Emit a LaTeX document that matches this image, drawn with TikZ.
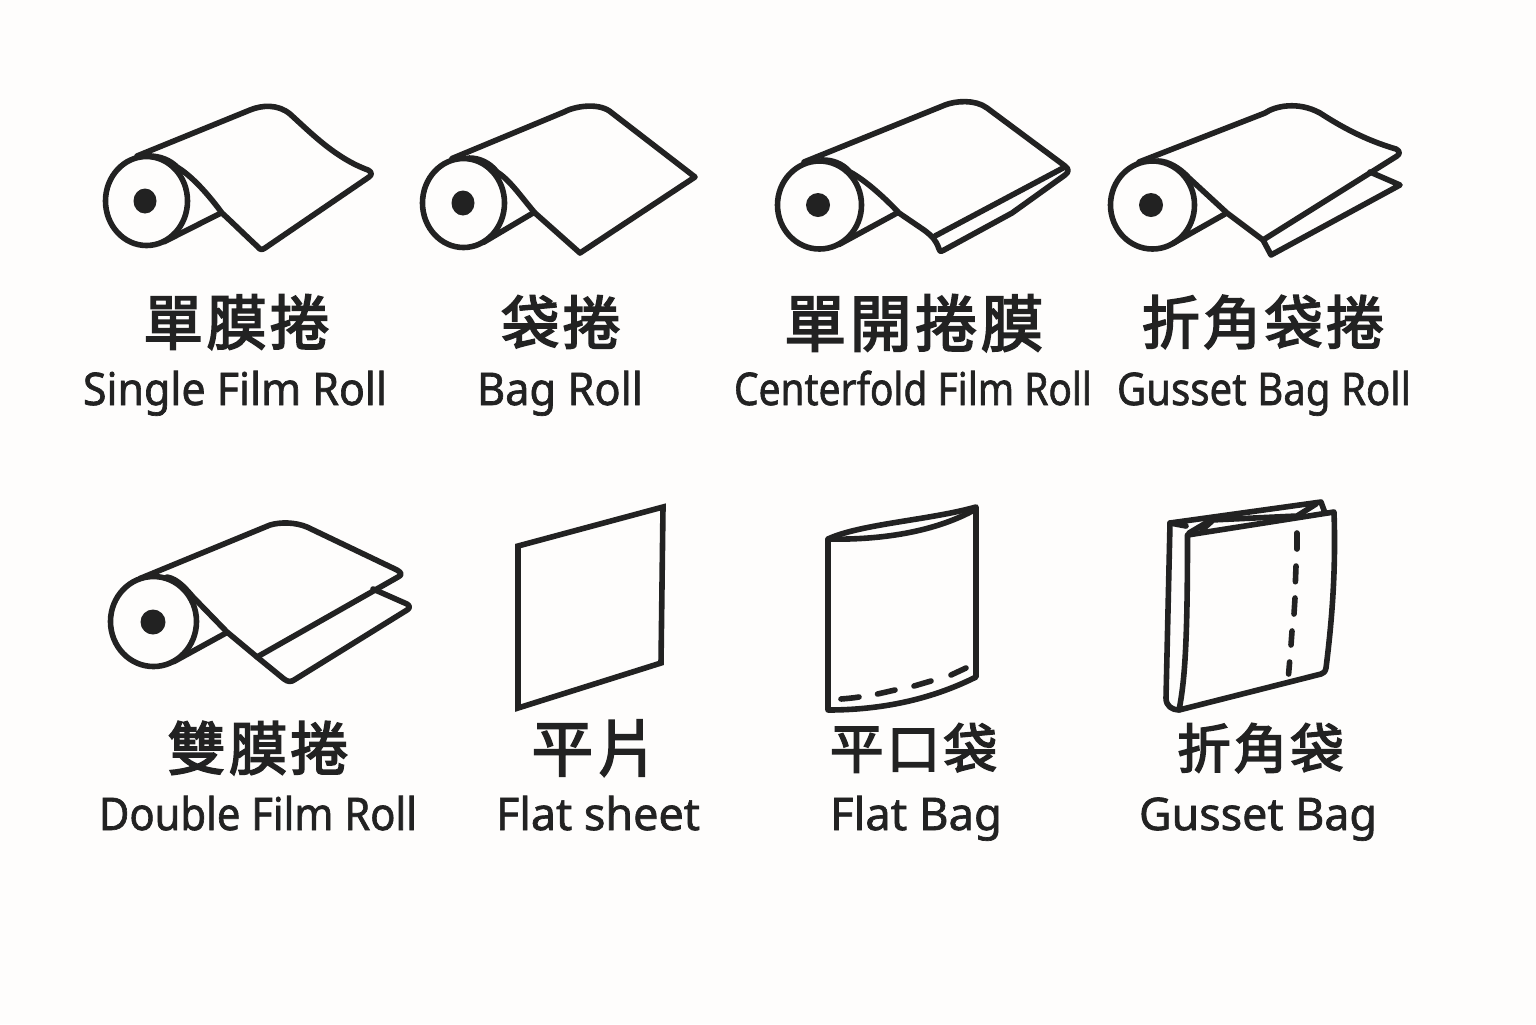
\documentclass[tikz,border=0pt]{standalone}
\usepackage{graphicx}
\usepackage{fontspec}
\setmainfont[FakeBold=1.5]{Noto Sans}
\newfontfamily\cjk[FakeBold=3,LetterSpace=6]{Noto Sans CJK TC}
\definecolor{ink}{HTML}{222222}
\definecolor{paper}{HTML}{FEFDFC}
\newcommand{\enlab}[2]{\resizebox{\dimexpr#1pt/2\relax}{\height}{#2}}
\tikzset{
  ic/.style={draw=ink,line width=2.8pt,line join=round,line cap=round},
  hole/.style={fill=ink},
  zh/.style={inner sep=0pt,text=ink,font=\fontsize{29}{29}\cjk,anchor=center},
  en/.style={inner sep=0pt,text=ink,font=\fontsize{22.5}{24}\selectfont,anchor=base},
}
\begin{document}
\begin{tikzpicture}[x=0.5pt,y=-0.5pt]
\useasboundingbox (0,0) rectangle (1536,1024);
\fill[paper] (0,0) rectangle (1536,1024);
% ---------- Single film roll
\draw[ic] (146.5,201) ellipse [x radius=41,y radius=44.5];
\fill[hole] (145,201) ellipse [x radius=11.5,y radius=12.5];
\draw[ic] (137,156) -- (250,110) .. controls (262,105) and (278,104) .. (290,114) .. controls (310,132) and (335,158) .. (368,170) .. controls (372,172) and (372,175) .. (369,177) -- (265,248) .. controls (262,250) and (260,250) .. (258,247) .. controls (245,235) and (235,225) .. (222,213) .. controls (205,190) and (190,175) .. (177,167) .. controls (170,160) and (160,156) .. (149,156);
\draw[ic] (221,213) -- (164,241.8);
% ---------- Bag roll
\draw[ic] (463.5,203) ellipse [x radius=41,y radius=44.5];
\fill[hole] (463,203) ellipse [x radius=11.5,y radius=12.5];
\draw[ic] (452,158.5) -- (564,112) .. controls (575,106) and (600,102) .. (612,113) -- (695,177) -- (580,253) -- (535,213) .. controls (522,198) and (510,180) .. (497,172) .. controls (490,163) and (480,158) .. (469,158);
\draw[ic] (533,213) -- (483.4,242.4);
% ---------- Centerfold film roll
\draw[ic] (819.5,205) ellipse [x radius=42,y radius=44];
\fill[hole] (818,205) ellipse [x radius=12,y radius=12];
\draw[ic] (804,162) -- (945,105) .. controls (955,101) and (975,99) .. (987,108) -- (1065,166) .. controls (1069,169) and (1069,172) .. (1065,175) -- (1012,213) -- (944,250) .. controls (942,252) and (940,252) .. (939,249) .. controls (936,240) and (932,236) .. (924,230) -- (899,213) .. controls (885,198) and (865,180) .. (850,172) .. controls (842,163) and (832,160) .. (823,160);
\draw[ic] (1063,168) -- (935,236);
\draw[ic] (897,213) -- (839,244.5);
% ---------- Gusset bag roll
\draw[ic] (1152.5,205) ellipse [x radius=42,y radius=44];
\fill[hole] (1151,205) ellipse [x radius=12,y radius=12];
\draw[ic] (1139,162) -- (1265,113) .. controls (1275,106) and (1298,101) .. (1320,113) .. controls (1340,126) and (1365,140) .. (1396,149) .. controls (1400,151) and (1400,154) .. (1397,156) -- (1263,240);
\draw[ic] (1158,161) .. controls (1168,161) and (1180,168) .. (1189,178) -- (1227,213) -- (1263,240) -- (1271,255) -- (1400,185) -- (1370,172);
\draw[ic] (1225,214) -- (1172.8,243.5);
% ---------- Double film roll
\draw[ic] (153.5,621.5) ellipse [x radius=43,y radius=45];
\fill[hole] (153,622) ellipse [x radius=12.5,y radius=12.5];
\draw[ic] (140,578.5) -- (270,525) .. controls (280,522) and (295,522) .. (307,527) -- (397,570) .. controls (402,573) and (402,575) .. (398,577) -- (257,657);
\draw[ic] (167,577) .. controls (178,579) and (186,589) .. (193,597) -- (227,632) -- (257,657) -- (284,679) .. controls (288,682) and (291,682) .. (294,680) -- (407,610) .. controls (410,608) and (410,606) .. (407,604) -- (373,589);
\draw[ic] (226,633) -- (173.7,661.7);
% ---------- Flat sheet
\draw[ic,line join=miter] (518,546) -- (663,507) -- (661,663) -- (518,708) -- cycle;
% ---------- Flat bag
\draw[ic] (828,539) .. controls (860,524) and (930,520) .. (976,507) -- (976,677) .. controls (930,700) and (880,710) .. (828,710) -- cycle;
\draw[ic] (828,539) .. controls (870,540) and (930,535) .. (976,509);
\draw[ic] (841,699) .. controls (847,698.5) and (853,698) .. (859,697);
\draw[ic] (877.5,694) -- (895,690);
\draw[ic] (914,686) -- (931,681);
\draw[ic] (951,675) -- (966,668);
% ---------- Gusset bag
\draw[ic] (1186,526) -- (1170,523) -- (1321,502) -- (1325,513);
\draw[ic] (1170,523) -- (1166,698) .. controls (1166,706) and (1172,710) .. (1179,710);
\draw[ic] (1187.5,535) -- (1334,512) .. controls (1336,570) and (1332,620) .. (1326,668) .. controls (1325,672) and (1324,673) .. (1321,674) -- (1179,710) .. controls (1185,680) and (1187.5,640) .. (1187.5,535) -- cycle;
\draw[ic] (1189,533) -- (1211,520) -- (1297,516) -- (1316,504);
\draw[ic] (1202,530) -- (1212,521);
\draw[ic] (1296.8,533) -- (1296.8,549);
\draw[ic] (1296,566) -- (1295.4,581.7);
\draw[ic] (1295,598) -- (1294,614);
\draw[ic] (1292,631) -- (1291,645);
\draw[ic] (1289.6,662) -- (1288.6,674);
% ---------- Labels
\node[zh] (z1) at (236.5,322) {\scalebox{1.03}{單膜捲}};
\node[en] (e1) at (235,405) {\enlab{304}{Single Film Roll}};
\node[zh] (z2) at (561,322) {袋捲};
\node[en] (e2) at (560,405) {\enlab{166}{Bag Roll}};
\node[zh] (z3) at (913.5,323) {\scalebox{1.067}{單開捲膜}};
\node[en] (e3) at (913,405) {\enlab{358}{Centerfold Film Roll}};
\node[zh] (z4) at (1263,322) {折角袋捲};
\node[en] (e4) at (1264,405) {\enlab{294}{Gusset Bag Roll}};
\node[zh] (z5) at (258,748) {雙膜捲};
\node[en] (e5) at (258,830) {\enlab{318}{Double Film Roll}};
\node[zh] (z6) at (595,748) {\scalebox{1.06}{平片}};
\node[en] (e6) at (598,830) {\enlab{204}{Flat sheet}};
\node[zh] (z7) at (913.5,748) {\scalebox{0.925}{平口袋}};
\node[en] (e7) at (916,830) {\enlab{172}{Flat Bag}};
\node[zh] (z8) at (1260.5,748) {\scalebox{0.92}{折角袋}};
\node[en] (e8) at (1258,830) {\enlab{238}{Gusset Bag}};
\end{tikzpicture}
\end{document}
